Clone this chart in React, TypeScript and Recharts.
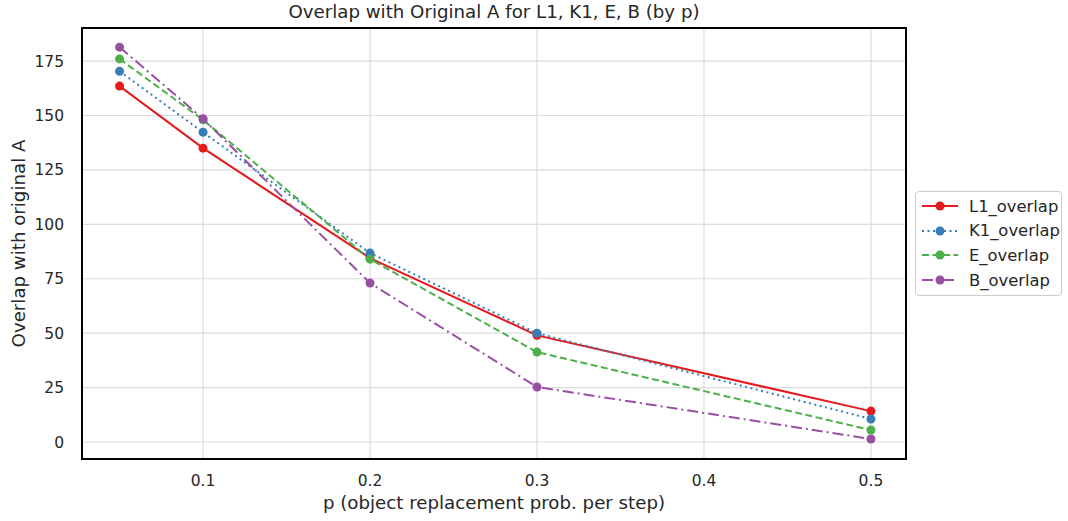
import React from 'react'
import { CartesianGrid, Line, LineChart, ReferenceArea, XAxis, YAxis } from 'recharts'

const pValues = [0.05, 0.1, 0.2, 0.3, 0.5]
const l1Overlap = [163.5, 135, 84.5, 49, 14.2]
const k1Overlap = [170.3, 142.3, 86.8, 50, 10.6]
const eOverlap = [176, 148, 84, 41.3, 5.5]
const bOverlap = [181.4, 148.5, 73, 25.3, 1.4]
const xTicks = [0.1, 0.2, 0.3, 0.4, 0.5]
const yTicks = [0, 25, 50, 75, 100, 125, 150, 175]

const data = pValues.map((p, i) => ({
    p,
    L1_overlap: l1Overlap[i],
    K1_overlap: k1Overlap[i],
    E_overlap: eOverlap[i],
    B_overlap: bOverlap[i],
}))

const series = [
    { key: 'L1_overlap', color: '#e41a1c', dash: undefined },
    { key: 'K1_overlap', color: '#377eb8', dash: '2 3.5' },
    { key: 'E_overlap', color: '#4daf4a', dash: '7 3.5' },
    { key: 'B_overlap', color: '#984ea3', dash: '11 4 2 4' },
]

const font = 'DejaVu Sans, sans-serif'
const textColor = '#262626'
const xDomain: [number, number] = [0.0275, 0.521]
const yDomain: [number, number] = [-7.8, 190.2]

const LegendBox = () => (
    <div style={{
        position: 'absolute', left: 915, top: 191, width: 147, height: 105,
        border: '1px solid #cccccc', borderRadius: 4, background: 'white',
        boxSizing: 'border-box', fontFamily: font, fontSize: 16.4, color: textColor,
    }}>
        {series.map((s, i) => (
            <div key={s.key} style={{ position: 'absolute', left: 5, top: 4 + i * 24.7, height: 20, display: 'flex', alignItems: 'center' }}>
                <svg width={38} height={20}>
                    <line x1={1} y1={10} x2={37} y2={10} stroke={s.color} strokeWidth={2} strokeDasharray={s.dash} />
                    <circle cx={19} cy={10} r={4.5} fill={s.color} />
                </svg>
                <span style={{ marginLeft: 10 }}>{s.key}</span>
            </div>
        ))}
    </div>
)

export default function App() {
    return (
        <div style={{ position: 'absolute', left: 0, top: 0, width: 1068, height: 521, background: 'white' }}>
            <div style={{
                position: 'absolute', left: 82, width: 824, top: 1, textAlign: 'center',
                fontFamily: font, fontSize: 18.2, color: textColor,
            }}>
                Overlap with Original A for L1, K1, E, B (by p)
            </div>
            <LineChart
                width={1068}
                height={521}
                data={data}
                margin={{ top: 28, right: 162, bottom: 0, left: 0 }}
                style={{ fontFamily: font }}
            >
                <CartesianGrid stroke="#dcdcdc" strokeWidth={1.2} horizontalValues={yTicks} verticalValues={xTicks} />
                <XAxis
                    dataKey="p"
                    type="number"
                    domain={xDomain}
                    ticks={xTicks}
                    allowDataOverflow
                    axisLine={false}
                    tickLine={false}
                    height={62}
                    tick={{ fill: textColor, fontSize: 15.5 }}
                    tickMargin={10}
                    label={{ value: 'p (object replacement prob. per step)', position: 'insideBottom', offset: 12, fill: textColor, fontSize: 18.2 }}
                />
                <YAxis
                    type="number"
                    domain={yDomain}
                    ticks={yTicks}
                    allowDataOverflow
                    axisLine={false}
                    tickLine={false}
                    width={82}
                    tick={{ fill: textColor, fontSize: 15.5 }}
                    tickMargin={12}
                    label={{ value: 'Overlap with original A', angle: -90, position: 'insideLeft', offset: 19, fill: textColor, fontSize: 18.2, style: { textAnchor: 'middle' } }}
                />
                {series.map((s) => (
                    <Line
                        key={s.key}
                        dataKey={s.key}
                        type="linear"
                        stroke={s.color}
                        strokeWidth={2}
                        strokeDasharray={s.dash}
                        dot={{ r: 4.5, fill: s.color, stroke: s.color, strokeWidth: 0 }}
                        activeDot={false}
                        isAnimationActive={false}
                    />
                ))}
                <ReferenceArea
                    x1={xDomain[0]} x2={xDomain[1]} y1={yDomain[0]} y2={yDomain[1]}
                    fill="none" fillOpacity={0} stroke="#000000" strokeWidth={2} strokeOpacity={1}
                />
            </LineChart>
            <LegendBox />
        </div>
    )
}
